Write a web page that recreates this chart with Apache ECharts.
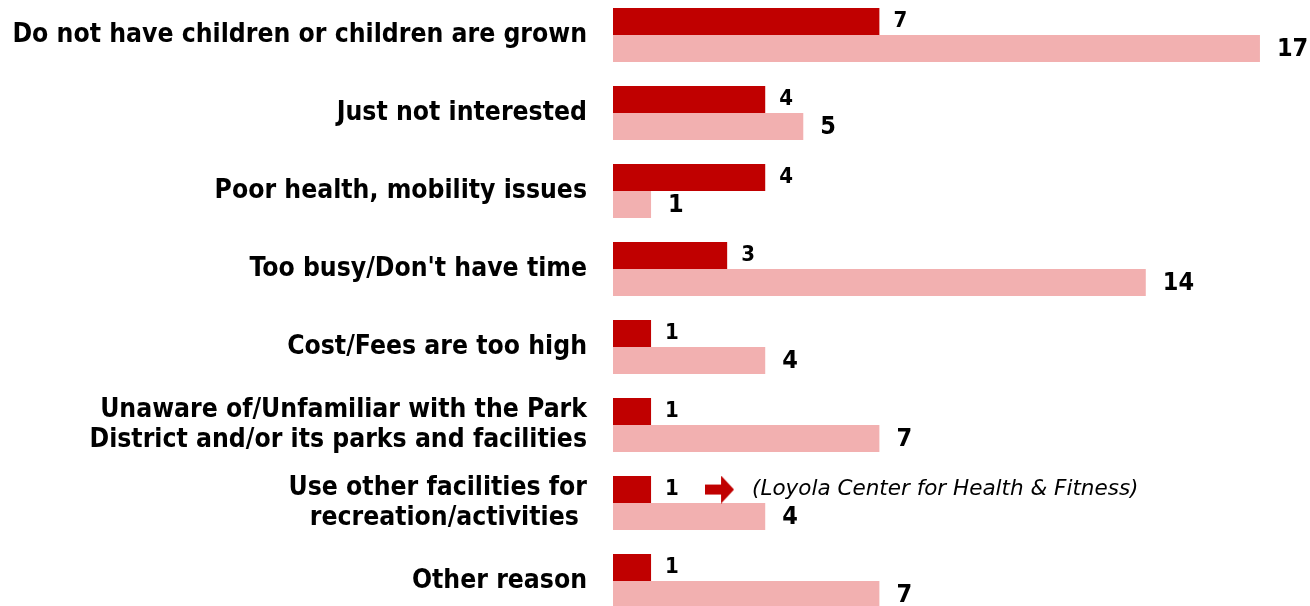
<!DOCTYPE html>
<html>
<head>
<meta charset="utf-8">
<script src="https://cdn.jsdelivr.net/npm/echarts@6/dist/echarts.min.js"></script>
<style>
  html, body { margin: 0; padding: 0; background: #fff; }
  #chart { width: 1310px; height: 606px; }
</style>
</head>
<body>
<div id="chart"></div>
<script>
// Reasons for not using Park District facilities, two respondent groups
const categories = [
  'Do not have children or children are grown',
  'Just not interested',
  'Poor health, mobility issues',
  "Too busy/Don't have time",
  'Cost/Fees are too high',
  'Unaware of/Unfamiliar with the Park\nDistrict and/or its parks and facilities',
  'Use other facilities for\nrecreation/activities ',
  'Other reason'
];
const groupA = [7, 4, 4, 3, 1, 1, 1, 1];
const groupB = [17, 5, 1, 14, 4, 7, 4, 7];
const noteIndex = 6;
const noteText = '(Loyola Center for Health & Fitness)';

const FONT = '"DejaVu Sans Condensed", "DejaVu Sans", sans-serif';
const NOTE_FONT = '"DejaVu Sans", sans-serif';
const DARK = '#C00000';
const LIGHT = '#F2B0B0';

// Block arrow used inside the note label
function makeArrow(w, h) {
  const c = document.createElement('canvas');
  c.width = w; c.height = h;
  const g = c.getContext('2d');
  const stemLen = Math.round(w * 0.55);
  const stemH = Math.round(h * 0.36);
  const top = (h - stemH) / 2;
  g.fillStyle = DARK;
  g.beginPath();
  g.moveTo(0, top);
  g.lineTo(stemLen, top);
  g.lineTo(stemLen, 0);
  g.lineTo(w, h / 2);
  g.lineTo(stemLen, h);
  g.lineTo(stemLen, top + stemH);
  g.lineTo(0, top + stemH);
  g.closePath();
  g.fill();
  return c;
}
const arrowImg = makeArrow(29, 28);

const chart = echarts.init(document.getElementById('chart'), null, { renderer: 'canvas' });

chart.setOption({
  animation: false,
  backgroundColor: '#ffffff',
  grid: { left: 613, top: -4, width: 685, height: 624, containLabel: false, outerBoundsMode: 'none' },
  xAxis: { type: 'value', min: 0, max: 18, show: false },
  yAxis: {
    type: 'category',
    data: categories,
    inverse: true,
    axisLine: { show: false },
    axisTick: { show: false },
    splitLine: { show: false },
    axisLabel: {
      margin: 26,
      fontFamily: FONT,
      fontWeight: 'bold',
      fontSize: 26.3,
      lineHeight: 30,
      color: '#000',
      align: 'right'
    }
  },
  series: [
    {
      type: 'bar',
      data: groupA,
      barGap: '0%',
      barCategoryGap: '30.8%',
      itemStyle: { color: DARK },
      label: {
        show: true,
        position: 'right',
        distance: 14,
        fontFamily: FONT,
        fontWeight: 'bold',
        fontSize: 22,
        color: '#000',
        formatter: p => p.dataIndex === noteIndex
          ? '{v|' + p.value + '}{arr|}{s|}{t|' + noteText + '}'
          : String(p.value),
        rich: {
          v: { fontFamily: FONT, fontWeight: 'bold', fontSize: 22, color: '#000', width: 40 },
          arr: { width: 29, height: 28, backgroundColor: { image: arrowImg } },
          s: { width: 18 },
          t: { fontFamily: NOTE_FONT, fontStyle: 'italic', fontWeight: 'normal', fontSize: 21.5, color: '#000' }
        }
      }
    },
    {
      type: 'bar',
      data: groupB,
      itemStyle: { color: LIGHT },
      label: {
        show: true,
        position: 'right',
        distance: 17,
        offset: [0, 1],
        fontFamily: FONT,
        fontWeight: 'bold',
        fontSize: 25,
        color: '#000'
      }
    }
  ]
});
</script>
</body>
</html>
